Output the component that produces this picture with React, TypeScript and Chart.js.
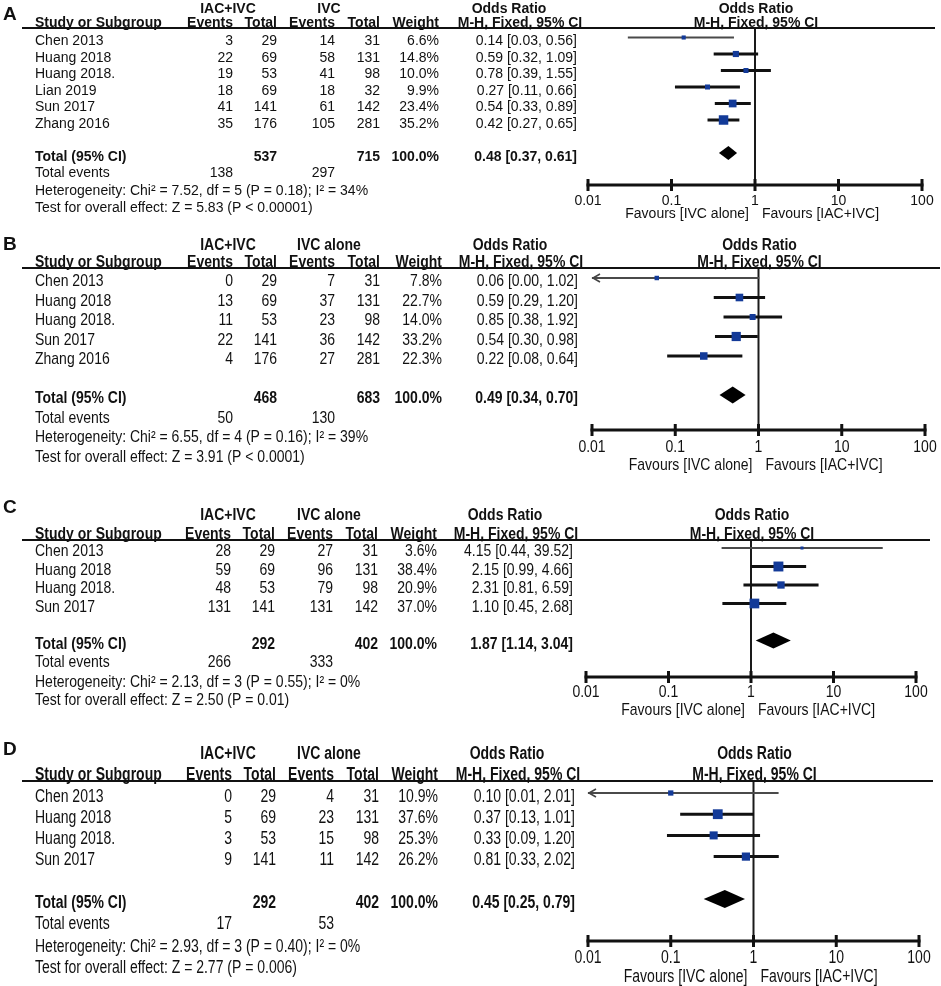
import React, { useEffect, useRef } from "react";
import { Chart, registerables } from "chart.js";
Chart.register(...registerables);

const FONT = '"Liberation Sans", Arial, Helvetica, sans-serif';
const PAGE_W = 941;
const AXIS_MIN = 0.01;
const AXIS_MAX = 100;

// ---------- shared labels ----------
const axisTicks = [0.01, 0.1, 1, 10, 100];
const axisTickLabels = ["0.01", "0.1", "1", "10", "100"];
const favourLeft = "Favours [IVC alone]";
const favourRight = "Favours [IAC+IVC]";
const treatLabel = "IAC+IVC";
const colHeaders = ["Study or Subgroup", "Events", "Total", "Events", "Total", "Weight", "M-H, Fixed, 95% CI"];
const orHeader = "Odds Ratio";
const totalRowLabel = "Total (95% CI)";
const totalEventsLabel = "Total events";

// ---------- Panel A ----------
const letterA = "A";
const controlLabelA = "IVC";
const studiesA = ["Chen 2013", "Huang 2018", "Huang 2018.", "Lian 2019", "Sun 2017", "Zhang 2016"];
const evTreatA = [3, 22, 19, 18, 41, 35];
const nTreatA = [29, 69, 53, 69, 141, 176];
const evCtrlA = [14, 58, 41, 18, 61, 105];
const nCtrlA = [31, 131, 98, 32, 142, 281];
const weightA = [6.6, 14.8, 10.0, 9.9, 23.4, 35.2];
const orA = [0.14, 0.59, 0.78, 0.27, 0.54, 0.42];
const loA = [0.03, 0.32, 0.39, 0.11, 0.33, 0.27];
const hiA = [0.56, 1.09, 1.55, 0.66, 0.89, 0.65];
const pooledA = [0.48, 0.37, 0.61];
const totalsA = [537, 715];
const totalEventsA = [138, 297];
const hetA = [7.52, 5];
const hetPA = "0.18";
const i2A = 34;
const zA = 5.83;
const zPA = "< 0.00001";

// ---------- Panel B ----------
const letterB = "B";
const controlLabelB = "IVC alone";
const studiesB = ["Chen 2013", "Huang 2018", "Huang 2018.", "Sun 2017", "Zhang 2016"];
const evTreatB = [0, 13, 11, 22, 4];
const nTreatB = [29, 69, 53, 141, 176];
const evCtrlB = [7, 37, 23, 36, 27];
const nCtrlB = [31, 131, 98, 142, 281];
const weightB = [7.8, 22.7, 14.0, 33.2, 22.3];
const orB = [0.06, 0.59, 0.85, 0.54, 0.22];
const loB = [0.0035, 0.29, 0.38, 0.30, 0.08];
const hiB = [1.02, 1.20, 1.92, 0.98, 0.64];
const pooledB = [0.49, 0.34, 0.70];
const totalsB = [468, 683];
const totalEventsB = [50, 130];
const hetB = [6.55, 4];
const hetPB = "0.16";
const i2B = 39;
const zB = 3.91;
const zPB = "< 0.0001";

// ---------- Panel C ----------
const letterC = "C";
const controlLabelC = "IVC alone";
const studiesC = ["Chen 2013", "Huang 2018", "Huang 2018.", "Sun 2017"];
const evTreatC = [28, 59, 48, 131];
const nTreatC = [29, 69, 53, 141];
const evCtrlC = [27, 96, 79, 131];
const nCtrlC = [31, 131, 98, 142];
const weightC = [3.6, 38.4, 20.9, 37.0];
const orC = [4.15, 2.15, 2.31, 1.10];
const loC = [0.44, 0.99, 0.81, 0.45];
const hiC = [39.52, 4.66, 6.59, 2.68];
const pooledC = [1.87, 1.14, 3.04];
const totalsC = [292, 402];
const totalEventsC = [266, 333];
const hetC = [2.13, 3];
const hetPC = "0.55";
const i2C = 0;
const zC = 2.50;
const zPC = "= 0.01";

// ---------- Panel D ----------
const letterD = "D";
const controlLabelD = "IVC alone";
const studiesD = ["Chen 2013", "Huang 2018", "Huang 2018.", "Sun 2017"];
const evTreatD = [0, 5, 3, 9];
const nTreatD = [29, 69, 53, 141];
const evCtrlD = [4, 23, 15, 11];
const nCtrlD = [31, 131, 98, 142];
const weightD = [10.9, 37.6, 25.3, 26.2];
const orD = [0.10, 0.37, 0.33, 0.81];
const loD = [0.006, 0.13, 0.09, 0.33];
const hiD = [2.01, 1.01, 1.20, 2.02];
const pooledD = [0.45, 0.25, 0.79];
const totalsD = [292, 402];
const totalEventsD = [17, 53];
const hetD = [2.93, 3];
const hetPD = "0.40";
const i2D = 0;
const zD = 2.77;
const zPD = "= 0.006";

const panels = [
  { letter: letterA, control: controlLabelA, studies: studiesA, evT: evTreatA, nT: nTreatA, evC: evCtrlA, nC: nCtrlA, w: weightA, or: orA, lo: loA, hi: hiA, pooled: pooledA, totals: totalsA, tev: totalEventsA, het: hetA, hetP: hetPA, i2: i2A, z: zA, zP: zPA },
  { letter: letterB, control: controlLabelB, studies: studiesB, evT: evTreatB, nT: nTreatB, evC: evCtrlB, nC: nCtrlB, w: weightB, or: orB, lo: loB, hi: hiB, pooled: pooledB, totals: totalsB, tev: totalEventsB, het: hetB, hetP: hetPB, i2: i2B, z: zB, zP: zPB },
  { letter: letterC, control: controlLabelC, studies: studiesC, evT: evTreatC, nT: nTreatC, evC: evCtrlC, nC: nCtrlC, w: weightC, or: orC, lo: loC, hi: hiC, pooled: pooledC, totals: totalsC, tev: totalEventsC, het: hetC, hetP: hetPC, i2: i2C, z: zC, zP: zPC },
  { letter: letterD, control: controlLabelD, studies: studiesD, evT: evTreatD, nT: nTreatD, evC: evCtrlD, nC: nCtrlD, w: weightD, or: orD, lo: loD, hi: hiD, pooled: pooledD, totals: totalsD, tev: totalEventsD, het: hetD, hetP: hetPD, i2: i2D, z: zD, zP: zPD },
];

// ---------- layout (page px) ----------
const layouts = [
  { top: 0, height: 235, lineY: 28, axisY: 185, firstMark: 37.5, step: 16.5, xMin: 588, xMax: 922, cols: [233, 277, 335, 380, 439], ciRight: 577, sy: 1.0, groupBase: 12.5, studyBase: 27, letterBase: 20, tickBase: 204.5, favBase: 218, footDy: 1.5, lineEnd: 935 },
  { top: 235, height: 245, lineY: 268, axisY: 430, firstMark: 278, step: 19.5, xMin: 592, xMax: 925, cols: [233, 277, 335, 380, 442], ciRight: 578, sy: 1.15, groupBase: 250, studyBase: 266.5, letterBase: 250, tickBase: 452, favBase: 470, footDy: 0, lineEnd: 940 },
  { top: 480, height: 250, lineY: 540, axisY: 677, firstMark: 548, step: 18.5, xMin: 586, xMax: 916, cols: [231, 275, 333, 378, 437], ciRight: 573, sy: 1.15, groupBase: 520, studyBase: 538.5, letterBase: 513, tickBase: 697, favBase: 715, footDy: 1, lineEnd: 930 },
  { top: 730, height: 256, lineY: 781, axisY: 941, firstMark: 793, step: 21.2, xMin: 588, xMax: 919, cols: [232, 276, 334, 379, 438], ciRight: 575, sy: 1.25, groupBase: 759, studyBase: 779.5, letterBase: 755, tickBase: 963, favBase: 982, footDy: 2, lineEnd: 933 },
];

const TEXT_COLOR = "#111";
const SQUARE_COLOR = "#133a98";

function txt(ctx: CanvasRenderingContext2D, s: string, x: number, y: number, align: CanvasTextAlign, bold: boolean, sy: number, baseline: CanvasTextBaseline = "middle", size = 14) {
  ctx.save();
  ctx.translate(x, y);
  ctx.scale(1, sy);
  ctx.font = `${bold ? "bold " : ""}${size}px ${FONT}`;
  ctx.textAlign = align;
  ctx.textBaseline = baseline;
  ctx.fillStyle = TEXT_COLOR;
  ctx.fillText(s, 0, 0);
  ctx.restore();
}

const fmtCI = (o: number, l: number, h: number) => `${o.toFixed(2)} [${l.toFixed(2)}, ${h.toFixed(2)}]`;
const isThin = (w: number, lo: number) => w < 8 || lo < AXIS_MIN;

function makeForestPlugin(p: any, L: any) {
  const n = p.studies.length;
  const off = L.top;
  return {
    id: "forest" + p.letter,
    beforeDatasetsDraw(chart: any) {
      const { ctx, chartArea, scales } = chart;
      const x1 = scales.x.getPixelForValue(1);
      ctx.save();
      ctx.strokeStyle = "#1a1a1a";
      ctx.lineWidth = 2;
      ctx.beginPath();
      ctx.moveTo(x1, chartArea.top);
      ctx.lineTo(x1, chartArea.bottom);
      ctx.stroke();
      ctx.restore();
    },
    afterDatasetsDraw(chart: any) {
      const { ctx, scales } = chart;
      const xs = scales.x, ys = scales.y;
      ctx.save();
      // arrows for truncated CIs
      p.lo.forEach((lo: number, i: number) => {
        if (lo < AXIS_MIN) {
          const x0 = xs.getPixelForValue(AXIS_MIN);
          const y = ys.getPixelForValue(i + 1);
          ctx.strokeStyle = "#444";
          ctx.lineWidth = 1.6;
          ctx.beginPath();
          ctx.moveTo(x0 + 8, y - 4);
          ctx.lineTo(x0 + 1, y);
          ctx.lineTo(x0 + 8, y + 4);
          ctx.stroke();
        }
      });
      // pooled diamond
      const row = n + 2;
      const yc = ys.getPixelForValue(row);
      const hh = ys.getPixelForValue(row + 0.43) - yc;
      const [po, pl, ph] = p.pooled;
      ctx.fillStyle = "#000";
      ctx.beginPath();
      ctx.moveTo(xs.getPixelForValue(pl), yc);
      ctx.lineTo(xs.getPixelForValue(po), yc - hh);
      ctx.lineTo(xs.getPixelForValue(ph), yc);
      ctx.lineTo(xs.getPixelForValue(po), yc + hh);
      ctx.closePath();
      ctx.fill();
      ctx.restore();
    },
    afterDraw(chart: any) {
      const { ctx, chartArea, scales } = chart;
      const xs = scales.x, ys = scales.y;
      const sy = L.sy;
      const x1 = xs.getPixelForValue(1);
      ctx.save();
      // header rule
      ctx.strokeStyle = "#111";
      ctx.lineWidth = 2;
      ctx.beginPath();
      ctx.moveTo(22, chartArea.top);
      ctx.lineTo(L.lineEnd, chartArea.top);
      ctx.stroke();
      // x axis
      const ay = chartArea.bottom;
      ctx.lineWidth = 3;
      ctx.beginPath();
      ctx.moveTo(xs.getPixelForValue(AXIS_MIN) - 1.5, ay);
      ctx.lineTo(xs.getPixelForValue(AXIS_MAX) + 1.5, ay);
      ctx.stroke();
      axisTicks.forEach((t, k) => {
        const x = xs.getPixelForValue(t);
        ctx.beginPath();
        ctx.moveTo(x, ay - 6);
        ctx.lineTo(x, ay + 6);
        ctx.stroke();
        txt(ctx, axisTickLabels[k], x, L.tickBase - off, "center", false, sy, "alphabetic");
      });
      ctx.restore();

      txt(ctx, favourLeft, x1 - 6, L.favBase - off, "right", false, sy, "alphabetic");
      txt(ctx, favourRight, x1 + 7, L.favBase - off, "left", false, sy, "alphabetic");

      // panel letter
      txt(ctx, p.letter, 3, L.letterBase - off, "left", true, 1, "alphabetic", 19);

      // group headers
      const gb = L.groupBase - off;
      const sb = L.studyBase - off;
      txt(ctx, treatLabel, 228, gb, "center", true, sy, "alphabetic");
      txt(ctx, p.control, 329, gb, "center", true, sy, "alphabetic");
      txt(ctx, orHeader, L.ciRight - 68, gb, "center", true, sy, "alphabetic");
      txt(ctx, orHeader, x1 + 1, gb, "center", true, sy, "alphabetic");
      txt(ctx, colHeaders[0], 35, sb, "left", true, sy, "alphabetic");
      for (let c = 0; c < 5; c++) txt(ctx, colHeaders[c + 1], L.cols[c], sb, "right", true, sy, "alphabetic");
      txt(ctx, colHeaders[6], L.ciRight - 57, sb, "center", true, sy, "alphabetic");
      txt(ctx, colHeaders[6], x1 + 1, sb, "center", true, sy, "alphabetic");

      // study rows
      const dy = 4;
      p.studies.forEach((s: string, i: number) => {
        const y = ys.getPixelForValue(i + 1) + dy;
        txt(ctx, s, 35, y, "left", false, sy);
        txt(ctx, String(p.evT[i]), L.cols[0], y, "right", false, sy);
        txt(ctx, String(p.nT[i]), L.cols[1], y, "right", false, sy);
        txt(ctx, String(p.evC[i]), L.cols[2], y, "right", false, sy);
        txt(ctx, String(p.nC[i]), L.cols[3], y, "right", false, sy);
        txt(ctx, p.w[i].toFixed(1) + "%", L.cols[4], y, "right", false, sy);
        txt(ctx, fmtCI(p.or[i], p.lo[i], p.hi[i]), L.ciRight, y, "right", false, sy);
      });

      // total row
      const yt = ys.getPixelForValue(n + 2) + dy;
      txt(ctx, totalRowLabel, 35, yt, "left", true, sy);
      txt(ctx, String(p.totals[0]), L.cols[1], yt, "right", true, sy);
      txt(ctx, String(p.totals[1]), L.cols[3], yt, "right", true, sy);
      txt(ctx, "100.0%", L.cols[4], yt, "right", true, sy);
      txt(ctx, fmtCI(p.pooled[0], p.pooled[1], p.pooled[2]), L.ciRight, yt, "right", true, sy);

      // footer
      const ye = ys.getPixelForValue(n + 3) + dy;
      txt(ctx, totalEventsLabel, 35, ye, "left", false, sy);
      txt(ctx, String(p.tev[0]), L.cols[0], ye, "right", false, sy);
      txt(ctx, String(p.tev[1]), L.cols[2], ye, "right", false, sy);
      const yh = ys.getPixelForValue(n + 4) + dy + L.footDy;
      txt(ctx, `Heterogeneity: Chi\u00B2 = ${p.het[0].toFixed(2)}, df = ${p.het[1]} (P = ${p.hetP}); I\u00B2 = ${p.i2}%`, 35, yh, "left", false, sy);
      const yz = ys.getPixelForValue(n + 5) + dy + L.footDy;
      txt(ctx, `Test for overall effect: Z = ${p.z.toFixed(2)} (P ${p.zP})`, 35, yz, "left", false, sy);
    },
  };
}

function ForestPanel({ p, L }: { p: any; L: any }) {
  const ref = useRef<HTMLCanvasElement>(null);
  useEffect(() => {
    const canvas = ref.current!;
    const vTop = 1 + (L.lineY - L.firstMark) / L.step;
    const vBot = 1 + (L.axisY - L.firstMark) / L.step;
    const squares = {
      type: "scatter",
      order: 0,
      data: p.or.map((o: number, i: number) => ({ x: o, y: i + 1 })),
      pointStyle: "rect",
      pointRadius: p.w.map((w: number) => Math.max(1.6 * Math.sqrt(w), 3) / Math.SQRT2),
      pointHoverRadius: p.w.map((w: number) => Math.max(1.6 * Math.sqrt(w), 3) / Math.SQRT2),
      backgroundColor: SQUARE_COLOR,
      borderWidth: 0,
    };
    const lines = p.studies.map((_: string, i: number) => {
      const thin = isThin(p.w[i], p.lo[i]);
      return {
        type: "scatter",
        order: 1,
        showLine: true,
        data: [
          { x: Math.max(p.lo[i], AXIS_MIN), y: i + 1 },
          { x: Math.min(p.hi[i], AXIS_MAX), y: i + 1 },
        ],
        borderColor: thin ? "#4a4a4a" : "#111",
        borderWidth: thin ? 1.8 : 3,
        pointRadius: 0,
        pointHoverRadius: 0,
      };
    });
    const chart = new Chart(canvas, {
      type: "scatter",
      data: { datasets: [squares, ...lines] as any },
      options: {
        animation: false,
        responsive: false,
        events: [],
        layout: {
          padding: {
            left: L.xMin,
            right: PAGE_W - L.xMax,
            top: L.lineY - L.top,
            bottom: L.top + L.height - L.axisY,
          },
        },
        scales: {
          x: { type: "logarithmic", min: AXIS_MIN, max: AXIS_MAX, display: false },
          y: { type: "linear", reverse: true, min: vTop, max: vBot, display: false },
        },
        plugins: { legend: { display: false }, tooltip: { enabled: false } },
      } as any,
      plugins: [makeForestPlugin(p, L)],
    });
    return () => chart.destroy();
  }, []);
  return (
    <canvas
      ref={ref}
      width={PAGE_W}
      height={L.height}
      style={{ position: "absolute", left: 0, top: L.top, width: PAGE_W, height: L.height, display: "block" }}
    />
  );
}

export default function App() {
  return (
    <div style={{ position: "absolute", left: 0, top: 0, width: PAGE_W, height: 986, background: "#fff", overflow: "hidden" }}>
      {panels.map((p, k) => (
        <ForestPanel key={p.letter} p={p} L={layouts[k]} />
      ))}
    </div>
  );
}
